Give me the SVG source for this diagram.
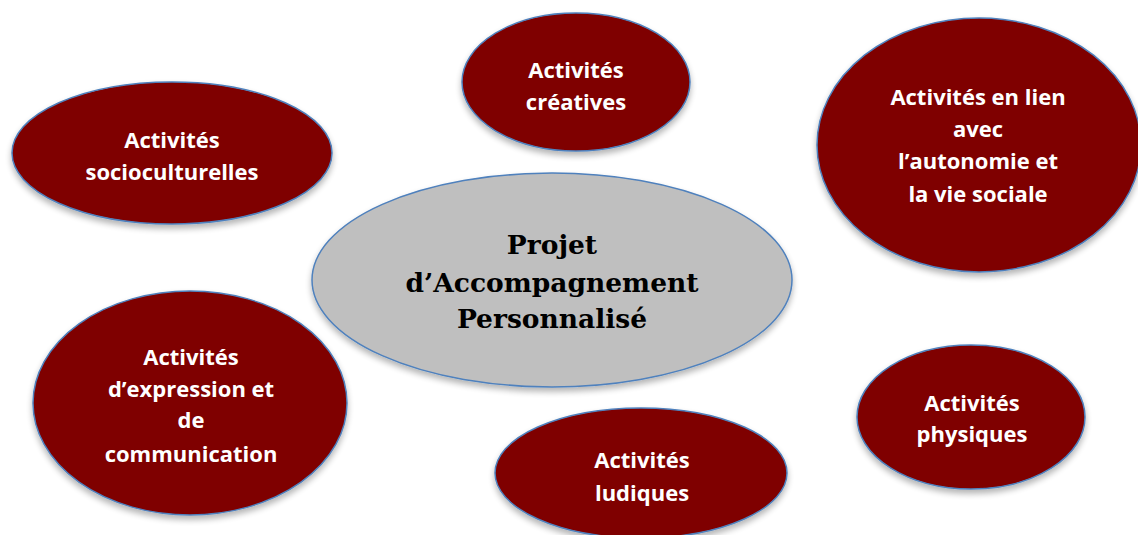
<svg xmlns="http://www.w3.org/2000/svg" width="1138" height="535" viewBox="0 0 1138 535">
<defs>
<filter id="sh" x="-10%" y="-10%" width="120%" height="130%">
<feGaussianBlur in="SourceAlpha" stdDeviation="3"/>
<feOffset dx="0" dy="4" result="b"/>
<feComponentTransfer><feFuncA type="linear" slope="0.3"/></feComponentTransfer>
<feMerge><feMergeNode/><feMergeNode in="SourceGraphic"/></feMerge>
</filter>
</defs>
<style>
.n{fill:#7f0000;stroke:#4f81bd;stroke-width:1.5;filter:url(#sh)}
.c{fill:#bfbfbf;stroke:#4f81bd;stroke-width:1.5;filter:url(#sh)}
.t{font-family:"Open Sans","Noto Sans",sans-serif;font-weight:bold;font-size:22px;fill:#ffffff;text-anchor:middle}
.ct{font-family:"DejaVu Serif","Liberation Serif",serif;font-weight:bold;font-size:26.5px;fill:#000000;text-anchor:middle}
</style>
<rect width="1138" height="535" fill="#ffffff"/>
<g id="connectors"></g>
<g id="center">
<ellipse class="c" cx="552" cy="280" rx="240" ry="107"/>
<text class="ct" x="552" y="254">Projet</text>
<text class="ct" x="552" y="292">d’Accompagnement</text>
<text class="ct" x="552" y="328">Personnalisé</text>
</g>
<g id="socioculturelles">
<ellipse class="n" cx="172" cy="153" rx="160" ry="71"/>
<text class="t" x="172" y="148">Activités</text>
<text class="t" x="172" y="180">socioculturelles</text>
</g>
<g id="creatives">
<ellipse class="n" cx="576" cy="82" rx="114" ry="69"/>
<text class="t" x="576" y="78">Activités</text>
<text class="t" x="576" y="110">créatives</text>
</g>
<g id="autonomie">
<ellipse class="n" cx="979" cy="145" rx="162" ry="127"/>
<text class="t" x="978" y="105">Activités en lien</text>
<text class="t" x="978" y="137">avec</text>
<text class="t" x="978" y="169">l’autonomie et</text>
<text class="t" x="978" y="202">la vie sociale</text>
</g>
<g id="expression">
<ellipse class="n" cx="190" cy="403" rx="157" ry="112"/>
<text class="t" x="191" y="365">Activités</text>
<text class="t" x="191" y="397">d’expression et</text>
<text class="t" x="191" y="428">de</text>
<text class="t" x="191" y="462">communication</text>
</g>
<g id="ludiques">
<ellipse class="n" cx="641" cy="473" rx="146" ry="65"/>
<text class="t" x="642" y="468">Activités</text>
<text class="t" x="642" y="501">ludiques</text>
</g>
<g id="physiques">
<ellipse class="n" cx="971" cy="417" rx="114" ry="72"/>
<text class="t" x="972" y="411">Activités</text>
<text class="t" x="972" y="442">physiques</text>
</g>
</svg>
